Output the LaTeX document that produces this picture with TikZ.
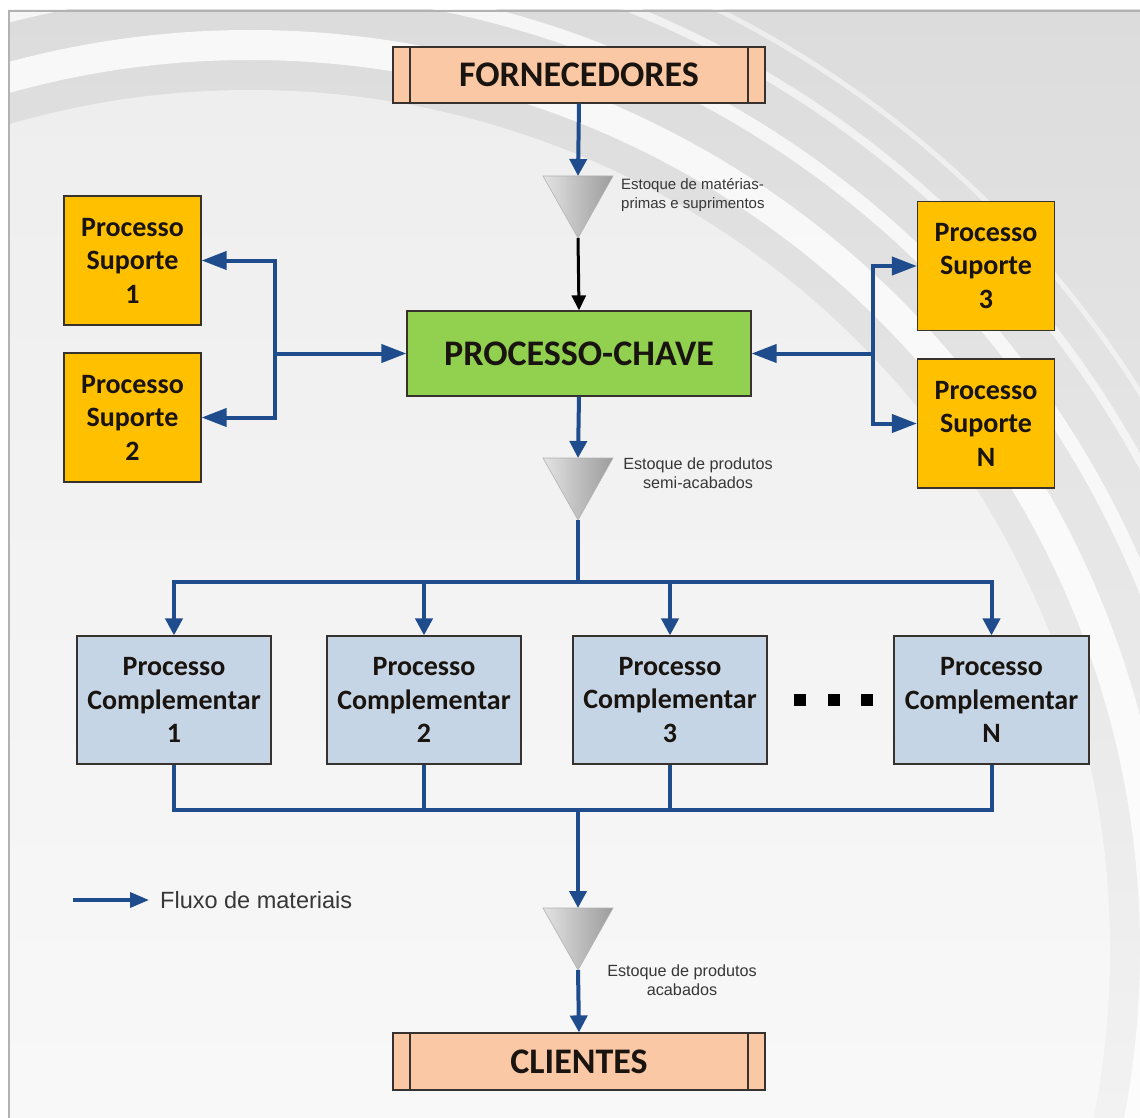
\documentclass[tikz,border=0pt]{standalone}
\usepackage{fontspec}
\usetikzlibrary{arrows.meta}
\newfontfamily\boxfont{Carlito}
\newfontfamily\lblfont{Liberation Sans}
\definecolor{flowblue}{RGB}{31,76,140}
\definecolor{peach}{RGB}{250,200,164}
\definecolor{keygreen}{RGB}{146,208,80}
\definecolor{gold}{RGB}{255,192,0}
\definecolor{steel}{RGB}{198,213,230}
\definecolor{edgec}{RGB}{55,50,45}
\definecolor{ink}{RGB}{25,20,15}
\definecolor{lblink}{RGB}{55,55,55}
\definecolor{bgtop}{RGB}{220,220,220}
\definecolor{bgbot}{RGB}{242,242,242}
\tikzset{
  flow/.style={draw=flowblue, line width=4pt},
  vhead/.style={-{Triangle[length=17pt,width=17pt]}},
  hhead/.style={-{Triangle[length=25pt,width=18pt]}},
  basebox/.style={draw=edgec, line width=1.2pt, text=ink, align=center, inner sep=0pt},
  bigbox/.style={basebox, fill=peach, minimum width=372pt, minimum height=56pt,
    font=\boxfont\bfseries\fontsize{36}{40}\selectfont,
    path picture={
      \draw[edgec, line width=1.2pt] ([xshift=17pt]path picture bounding box.north west) -- ([xshift=17pt]path picture bounding box.south west);
      \draw[edgec, line width=1.2pt] ([xshift=-17pt]path picture bounding box.north east) -- ([xshift=-17pt]path picture bounding box.south east);
    }},
  keybox/.style={basebox, fill=keygreen, minimum width=344pt, minimum height=85pt,
    font=\boxfont\bfseries\fontsize{36}{40}\selectfont},
  supbox/.style={basebox, fill=gold, minimum width=137pt, minimum height=129pt,
    font=\boxfont\bfseries\fontsize{28}{33.5}\selectfont},
  compbox/.style={basebox, fill=steel, minimum width=194pt, minimum height=128pt,
    font=\boxfont\bfseries\fontsize{28}{33.5}\selectfont},
  stocklbl/.style={text=lblink, inner sep=0pt, font=\lblfont\fontsize{15}{19}\selectfont},
  dotsq/.style={fill=black, minimum size=12pt, inner sep=0pt},
  stock/.style={left color=gray!22, right color=gray!78, draw=gray!60, line width=0.6pt}
}
\begin{document}
\begin{tikzpicture}[x=1pt,y=-1pt]
\useasboundingbox (0,0) rectangle (1140,1118);
% background
\fill[white] (0,0) rectangle (1140,1118);
\begin{scope}
  \clip (8,10) rectangle (1140,1118);
  \shade[top color=bgtop, bottom color=bgbot] (8,10) rectangle (1140,1118);
  \fill[white, opacity=.5] (250,950) circle[radius=860];
  \draw[white, line width=30pt, opacity=.8] (250,950) circle[radius=905];
  \draw[white, line width=14pt, opacity=.75] (250,950) circle[radius=965];
  \draw[white, line width=8pt, opacity=.6] (250,950) circle[radius=1015];
  \draw[white, line width=5pt, opacity=.5] (250,950) circle[radius=1050];
\end{scope}
\draw[gray!60, line width=2pt] (9,1118) -- (9,11) -- (1140,11);

% main nodes
\node[bigbox] (forn) at (579,75) {FORNECEDORES};
\node[keybox] (chave) at (579,353.5) {PROCESSO-CHAVE};
\node[supbox] (sp1) at (132.5,260.5) {Processo\\Suporte\\1};
\node[supbox] (sp2) at (132.5,417.5) {Processo\\Suporte\\2};
\node[supbox] (sp3) at (986,266) {Processo\\Suporte\\3};
\node[supbox] (spn) at (986,423.5) {Processo\\Suporte\\N};
\node[compbox] (c1) at (174,700) {Processo\\Complementar\\1};
\node[compbox] (c2) at (424,700) {Processo\\Complementar\\2};
\node[compbox] (c3) at (670,700) {Processo\\Complementar\\3};
\node[compbox, minimum width=195pt] (cn) at (991.5,700) {Processo\\Complementar\\N};
\node[bigbox, minimum height=57pt] (cli) at (579,1061.5) {CLIENTES};
\node[dotsq] (d1) at (800,700) {};
\node[dotsq] (d2) at (834,700) {};
\node[dotsq] (d3) at (867,700) {};

% stock triangles
\shade[stock] (543,176) -- (613,176) -- (578,238) -- cycle;
\coordinate (t1top) at (578,176);
\coordinate (t1apex) at (578,238);
\shade[stock] (543,458) -- (613,458) -- (578,520) -- cycle;
\coordinate (t2top) at (578,458);
\coordinate (t2apex) at (578,520);
\shade[stock] (543,908) -- (613,908) -- (578,970) -- cycle;
\coordinate (t3top) at (578,908);
\coordinate (t3apex) at (578,970);

\node[stocklbl, anchor=north west, align=left] (l1) at (621,178) {Estoque de matérias-\\primas e suprimentos};
\node[stocklbl, anchor=north, align=center, font=\lblfont\fontsize{16.2}{19}\selectfont] (l2) at (698,458) {Estoque de produtos\\semi-acabados};
\node[stocklbl, anchor=north, align=center, font=\lblfont\fontsize{16.2}{19}\selectfont] (l3) at (682,965) {Estoque de produtos\\acabados};

% connectors
\draw[flow, vhead] (forn.south) -- (t1top);
\draw[black, line width=3pt, -{Triangle[length=15pt,width=14pt]}] (t1apex) -- (chave.north);

\coordinate (jl) at (275,353.5);
\draw[flow, hhead] (jl) -- (chave.west);
\draw[flow, hhead] (jl) |- (sp1.east);
\draw[flow, hhead] (jl) |- (sp2.east);

\coordinate (jr) at (873,353.5);
\draw[flow, hhead] (jr) -- (chave.east);
\draw[flow, hhead] (jr) |- (sp3.west);
\draw[flow, hhead] (jr) |- (spn.west);

\draw[flow, vhead] (chave.south) -- (t2top);
\coordinate (bus1) at (578,582);
\draw[flow] (t2apex) -- (bus1);
\draw[flow, vhead] (bus1) -| (c1.north);
\draw[flow, vhead] (bus1) -| (c2.north);
\draw[flow, vhead] (bus1) -| (c3.north);
\draw[flow, vhead] (bus1) -| (cn.north);

\coordinate (bus2) at (578,810);
\draw[flow] (c1.south) |- (bus2);
\draw[flow] (c2.south) |- (bus2);
\draw[flow] (c3.south) |- (bus2);
\draw[flow] (cn.south) |- (bus2);
\draw[flow, vhead] (bus2) -- (t3top);
\draw[flow, vhead] (t3apex) -- (cli.north);

% legend
\coordinate (legA) at (73,900);
\coordinate (legB) at (149,900);
\draw[draw=flowblue, line width=3.5pt, -{Triangle[length=19pt,width=15pt]}] (legA) -- (legB);
\node[anchor=west, inner sep=0pt, text=lblink, font=\lblfont\fontsize{23.5}{27}\selectfont] (legtxt) at (160,900) {Fluxo de materiais};
\end{tikzpicture}
\end{document}
